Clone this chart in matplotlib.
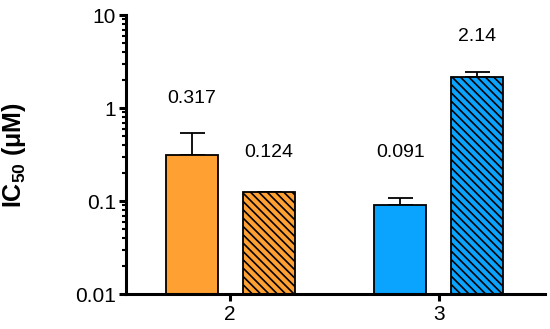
import numpy as np
import matplotlib
matplotlib.use('Agg')
import matplotlib.pyplot as plt

plt.rcParams['font.family'] = ['Liberation Sans', 'DejaVu Sans']
plt.rcParams['font.size'] = 14
plt.rcParams['mathtext.fontset'] = 'custom'
plt.rcParams['mathtext.rm'] = 'Liberation Sans:bold'
plt.rcParams['mathtext.bf'] = 'Liberation Sans:bold'
plt.rcParams['hatch.linewidth'] = 1.2

# data
compounds = ['2', '3']
plain = [0.317, 0.091]          # solid bars
plain_err = [0.22, 0.017]
hatched = [0.124, 2.14]         # hatched bars
hatched_err = [0.002, 0.28]
colors = ['#FFA033', '#0AA4FF']
plain_labels = ['0.317', '0.091']
hatched_labels = ['0.124', '2.14']
plain_label_y = [1.28, 0.336]
hatched_label_y = [0.336, 5.95]

fig = plt.figure(figsize=(5.5, 3.29), dpi=100)
ax = fig.add_axes([0.229, 0.106, 0.762, 0.848])

x = np.arange(len(compounds))
w = 0.25
off = 0.185

ax.bar(x - off, plain, w, color=colors, edgecolor='black', linewidth=1.3, zorder=2)
ax.bar(x + off, hatched, w, color=colors, edgecolor='black', linewidth=1.3,
       hatch='\\\\\\\\', zorder=2)
ax.errorbar(x - off, plain, yerr=[np.zeros(2), plain_err], fmt='none',
            ecolor='black', elinewidth=1.3, capsize=9, capthick=1.3, zorder=1)
ax.errorbar(x + off, hatched, yerr=[np.zeros(2), hatched_err], fmt='none',
            ecolor='black', elinewidth=1.3, capsize=9, capthick=1.3, zorder=1)

for i in range(len(compounds)):
    ax.text(x[i] - off, plain_label_y[i], plain_labels[i], ha='center', va='center')
    ax.text(x[i] + off, hatched_label_y[i], hatched_labels[i], ha='center', va='center')

ax.set_yscale('log')
ax.set_ylim(0.01, 10)
ax.set_xlim(-0.5, 1.51)
ax.set_yticks([0.01, 0.1, 1, 10])
ax.set_yticklabels(['0.01', '0.1', '1', '10'], fontsize=15)
ax.set_xticks(x)
ax.set_xticklabels(compounds, fontsize=15)

for s in ['top', 'right']:
    ax.spines[s].set_visible(False)
for s in ['left', 'bottom']:
    ax.spines[s].set_linewidth(2.2)

ax.tick_params(axis='y', which='major', length=5, width=2.2, pad=2)
ax.tick_params(axis='y', which='minor', length=3, width=1.5)
ax.tick_params(axis='x', length=5, width=2.2, pad=3)

ax.set_ylabel(r'IC$_{50}$ ($\mathbf{\mu}$M)', fontweight='bold', fontsize=18)
ax.yaxis.set_label_coords(-0.234, 0.5)

fig.savefig('out.png', dpi=100)
